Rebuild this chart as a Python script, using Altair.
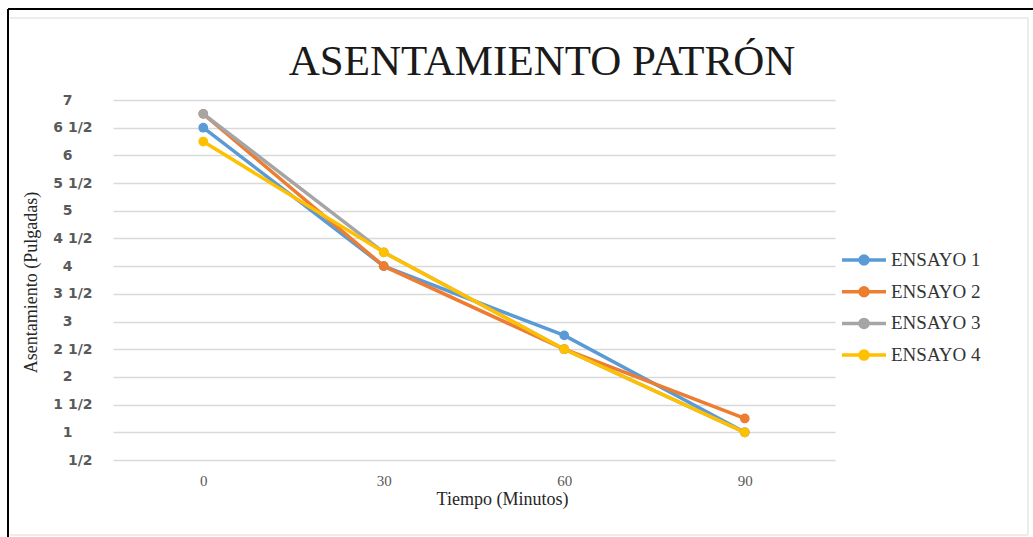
import altair as alt
import pandas as pd

# Slump readings (inches) taken every 30 minutes for four trials
tiempos = [0, 30, 60, 90]
ensayos = ["ENSAYO 1", "ENSAYO 2", "ENSAYO 3", "ENSAYO 4"]
ensayo_1 = [6.5, 4.0, 2.75, 1.0]
ensayo_2 = [6.75, 4.0, 2.5, 1.25]
ensayo_3 = [6.75, 4.25, 2.5, 1.0]
ensayo_4 = [6.25, 4.25, 2.5, 1.0]
colores = ["#5B9BD5", "#ED7D31", "#A5A5A5", "#FFC000"]
y_ticks = [0.5, 1, 1.5, 2, 2.5, 3, 3.5, 4, 4.5, 5, 5.5, 6, 6.5, 7]

rows = []
for nombre, serie in zip(ensayos, [ensayo_1, ensayo_2, ensayo_3, ensayo_4]):
    for t, v in zip(tiempos, serie):
        rows.append({"tiempo": t, "asentamiento": v, "ensayo": nombre})
df = pd.DataFrame(rows)

W, H = 722, 360
serif = "Liberation Serif"

# Inch values written as mixed fractions ("6 1/2", "1/2", "7")
label_expr = (
    "(datum.value % 1 == 0) ? format(datum.value, 'd') : "
    "((floor(datum.value) > 0 ? format(floor(datum.value), 'd') + ' ' : '') + '1/2')"
)
# Whole numbers sit further left, in the column of the integer part
label_pad = {"condition": {"test": "datum.value % 1 == 0", "value": 41}, "value": 21}

x_enc = alt.X(
    "tiempo:Q",
    scale=alt.Scale(domain=[-15, 105], nice=False, zero=False),
    axis=alt.Axis(
        values=tiempos, tickCount=20, grid=False, ticks=False, domain=False,
        labelFont=serif, labelFontSize=15, labelColor="#595959", labelPadding=13,
        title="Tiempo (Minutos)", titleFont=serif, titleFontSize=18,
        titleFontWeight="normal", titleColor="#262626",
        titleX=389, titleY=39, titleBaseline="middle", titleAlign="center",
    ),
)
y_enc = alt.Y(
    "asentamiento:Q",
    scale=alt.Scale(domain=[0.5, 7], nice=False, zero=False),
    axis=alt.Axis(
        values=y_ticks, tickCount=30, labelExpr=label_expr, ticks=False, domain=False,
        grid=True, gridColor="#d9d9d9", gridWidth=1.3, labelOverlap=False,
        labelFont="DejaVu Sans", labelFontWeight="bold", labelFontSize=14,
        labelColor="#595959", labelPadding=label_pad,
        title="Asentamiento (Pulgadas)", titleFont=serif, titleFontSize=18,
        titleFontWeight="normal", titleColor="#262626",
        titleAngle=270, titleX=-82, titleY=182,
        titleBaseline="middle", titleAlign="center",
    ),
)

color_scale = alt.Scale(domain=ensayos, range=colores)

# Legend glyph: a short line with a solid dot (two stroked rings) in the middle
glyph = (
    "M-2.2,0 L2.2,0 "
    "M-0.2,0 A0.2,0.2 0 1,0 0.2,0 A0.2,0.2 0 1,0 -0.2,0 "
    "M-0.4,0 A0.4,0.4 0 1,0 0.4,0 A0.4,0.4 0 1,0 -0.4,0"
)
leyenda = alt.Legend(
    orient="none", legendX=739, legendY=148, title=None,
    symbolType=glyph, symbolSize=400, symbolStrokeWidth=3.5,
    labelFont=serif, labelFontSize=19, labelColor="#333333",
    labelOffset=15, rowPadding=8.7,
)

base = alt.Chart(df)
lines = base.mark_line(strokeWidth=3.5).encode(
    x=x_enc, y=y_enc,
    color=alt.Color("ensayo:N", scale=color_scale, legend=leyenda),
    order=alt.Order("tiempo:Q"),
)
points = base.mark_circle(size=95, opacity=1).encode(
    x="tiempo:Q", y="asentamiento:Q",
    color=alt.Color("ensayo:N", scale=color_scale, legend=leyenda),
)

one = alt.Data(values=[{}])
titulo = alt.Chart(one).mark_text(
    text="ASENTAMIENTO PATRÓN", font=serif, fontSize=43, color="#1a1a1a",
    align="center", baseline="middle",
).encode(x=alt.value(429), y=alt.value(-38))

# Page frame: dark outer edge, light inner edge
frame = [
    alt.Chart(one).mark_rule(color="#000000", strokeWidth=2).encode(
        x=alt.value(-105), x2=alt.value(925), y=alt.value(-91)),
    alt.Chart(one).mark_rule(color="#000000", strokeWidth=2).encode(
        x=alt.value(-105), y=alt.value(-91), y2=alt.value(440)),
    alt.Chart(one).mark_rule(color="#e6e6e6", strokeWidth=1.5).encode(
        x=alt.value(-103), x2=alt.value(915), y=alt.value(-82)),
    alt.Chart(one).mark_rule(color="#e6e6e6", strokeWidth=1.5).encode(
        x=alt.value(915), y=alt.value(-82), y2=alt.value(435)),
    alt.Chart(one).mark_rule(color="#e6e6e6", strokeWidth=1.5).encode(
        x=alt.value(-103), x2=alt.value(915), y=alt.value(435)),
]

chart = alt.layer(lines, points, titulo, *frame).properties(
    width=W, height=H,
    autosize=alt.AutoSizeParams(type="none"),
    padding={"left": 113, "top": 100, "right": 198, "bottom": 77},
    background="white",
).configure_view(stroke=None)

chart.save("out.html", embed_options={"renderer": "svg", "actions": False})
